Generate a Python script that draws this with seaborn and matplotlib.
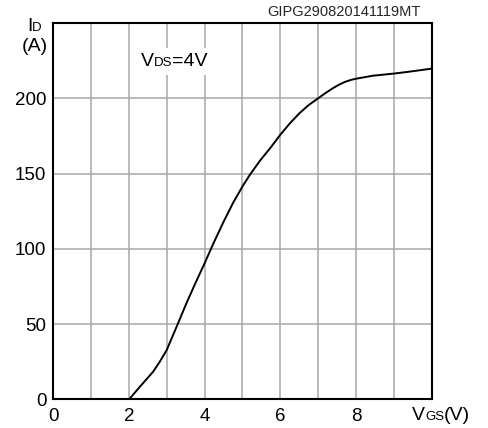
import matplotlib
matplotlib.use("Agg")
import matplotlib.pyplot as plt
import seaborn as sns
import pandas as pd
from matplotlib.offsetbox import TextArea, HPacker, VPacker, AnnotationBbox

# Transfer characteristic: drain current vs gate-source voltage
vgs = [0, 1, 2, 2.29, 2.64, 2.82, 3, 3.26, 3.52, 3.76, 4, 4.22, 4.5, 4.75, 5, 5.19,
       5.46, 5.75, 6, 6.25, 6.51, 6.75, 7, 7.2, 7.39, 7.55, 7.7, 7.85, 8,
       8.45, 9, 9.51, 10]
id_a = [0, 0, 0, 8.5, 18.5, 25.3, 33, 48.4, 64, 77.5, 90.5, 103, 118, 130.5, 141.5, 149,
        158.5, 167.5, 175.8, 183.3, 190.2, 195.5, 200, 203.6, 206.7, 209, 210.8, 212.1, 213,
        215, 216.4, 218, 219.7]
x_ticks = list(range(0, 11))
x_labels = ["0", "", "2", "", "4", "", "6", "", "8", "", ""]
y_ticks = [0, 50, 100, 150, 200, 250]
y_labels = ["0", "50", "100", "150", "200", ""]
chart_code = "GIPG290820141119MT"

sns.set_style("white")
plt.rcParams["font.family"] = ["Liberation Sans", "DejaVu Sans"]

df = pd.DataFrame({"VGS": vgs, "ID": id_a})

fig = plt.figure(figsize=(4.88, 4.28), dpi=100)
ax = fig.add_axes([0.1092, 0.0666, 0.7754, 0.8797])

sns.lineplot(data=df, x="VGS", y="ID", ax=ax, color="black", lw=1.4,
             sort=False, zorder=5)

ax.set_xlim(0, 10)
ax.set_ylim(0, 250)
ax.set_xticks(x_ticks)
ax.set_xticklabels(x_labels)
ax.set_yticks(y_ticks)
ax.set_yticklabels(y_labels)
ax.set_xlabel("")
ax.set_ylabel("")
ax.tick_params(axis="both", length=0, labelsize=13.5, colors="black")
ax.tick_params(axis="x", pad=6)
ax.tick_params(axis="y", pad=5)
ax.grid(True, color="#a8a8a8", lw=1.1)
ax.set_axisbelow(True)
for s in ax.spines.values():
    s.set_visible(True)
    s.set_color("black")
    s.set_linewidth(1.5)
    s.set_zorder(6)

big = dict(fontsize=14, color="black")
small = dict(fontsize=9.5, color="black")


def label_box(parts):
    return HPacker(children=[TextArea(t, textprops=big if b else small)
                             for t, b in parts],
                   align="baseline", pad=0, sep=0)


# Y-axis quantity and unit
id_label = VPacker(children=[label_box([("I", True), ("D", False)]),
                             label_box([("(A)", True)])],
                   align="center", pad=0, sep=2)
ax.add_artist(AnnotationBbox(id_label, (-0.5, 241), xycoords="data",
                             frameon=False, annotation_clip=False))

# X-axis quantity and unit
ax.add_artist(AnnotationBbox(label_box([("V", True), ("GS", False), ("(V)", True)]),
                             (10.25, -10.5), xycoords="data",
                             frameon=False, annotation_clip=False))

# Test condition
ax.add_artist(AnnotationBbox(label_box([("V", True), ("DS", False), ("=4V", True)]),
                             (3.2, 224.5), xycoords="data", frameon=True,
                             bboxprops=dict(facecolor="white", edgecolor="none",
                                            boxstyle="square,pad=0.35"),
                             annotation_clip=False, zorder=4))

ax.text(7.69, 257, chart_code, fontsize=10.5, ha="center", va="center",
        clip_on=False)

fig.savefig("out.png", dpi=100)
